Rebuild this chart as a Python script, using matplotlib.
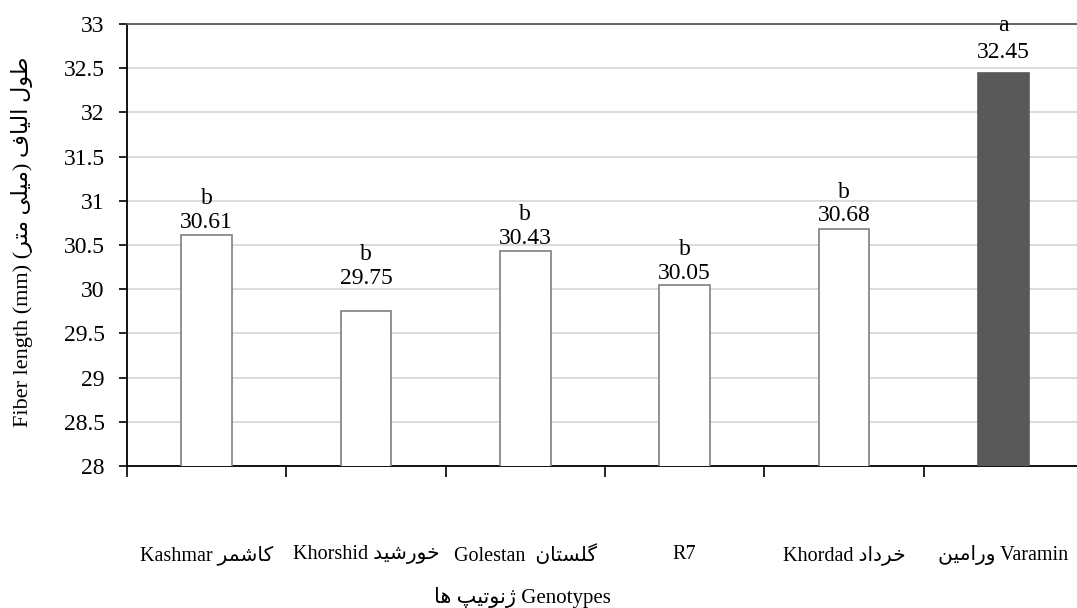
#...............................................................
# fiber length of cotton genotypes, bar chart with mean letters
#...............................................................
import numpy as np
import matplotlib
matplotlib.use("Agg")
import matplotlib.pyplot as plt

#...............................................................
# data
# Persian words are written in presentation forms, visual order
# (matplotlib has no arabic shaping)
genotypes = ["Kashmar \uFEAE\uFEE4\uFEB7\uFE8E\uFB90",
             "Khorshid \uFEAA\uFBFF\uFEB7\uFEAD\uFEEE\uFEA7",
             "Golestan  \uFEE5\uFE8E\uFE98\uFEB4\uFEE0\uFB94",
             "R7",
             "Khordad \uFEA9\uFE8D\uFEA9\uFEAE\uFEA7",
             "\uFEE6\uFBFF\uFEE3\uFE8D\uFEAD\uFEED Varamin"]
fiber_len = [30.61, 29.75, 30.43, 30.05, 30.68, 32.45]
letters = ["b", "b", "b", "b", "b", "a"]
yticks = [28, 28.5, 29, 29.5, 30, 30.5, 31, 31.5, 32, 32.5, 33]

ylab = ("Fiber length (mm) (\uFEAE\uFE98\uFEE3 \uFBFD\uFEE0\uFBFF\uFEE3) "
        "\uFED1\uFE8E\uFBFF\uFEDF\uFE8D \uFEDD\uFEEE\uFEC3")
xlab = "\uFE8E\uFEEB \uFB57\uFBFF\uFE97\uFEEE\uFEE7\uFB8A Genotypes"

# labels were hand placed in the original, extra lift per bar
lift = [0, 0.22, 0, -0.02, 0, 0.08]

fams = ["Liberation Serif", "DejaVu Sans"]
plt.rcParams["font.family"] = fams

#...............................................................
fig = plt.figure(figsize=(10.77, 6.08), dpi=100)
ax = fig.add_axes([127/1077, 1-466/608, 956/1077, 442/608])

x = np.arange(len(fiber_len))
cols = ["white"]*5 + ["#595959"]
bars = ax.bar(x, fiber_len, width=0.32, color=cols,
              edgecolor=["#7f7f7f"]*5 + ["#595959"], linewidth=1.2, zorder=3)

for xi, v, l, d in zip(x, fiber_len, letters, lift):
    ax.text(xi, v + 0.03 + d, f"{v:.2f}", ha="center", va="bottom",
            fontsize=17, zorder=4)
    ax.text(xi, v + 0.30 + d + (0.03 if l == "a" else 0), l,
            ha="center", va="bottom", fontsize=17, zorder=4)

ax.set_ylim(28, 33)
ax.set_xlim(-0.5, 5.5)
ax.set_yticks(yticks)
ax.set_yticklabels([f"{t:g}" for t in yticks], fontsize=17)
ax.yaxis.grid(True, color="#d9d9d9", linewidth=1.3, zorder=0)

# category boundaries as major ticks, names as minor ticks
ax.set_xticks(np.arange(-0.5, 5.6, 1.0))
ax.set_xticklabels([])
ax.set_xticks(x, minor=True)
ax.set_xticklabels(genotypes, minor=True, fontsize=14.5)
ax.tick_params(axis="x", which="major", length=8, width=1.2,
               color="black")
ax.tick_params(axis="x", which="minor", length=0, pad=57)
ax.tick_params(axis="y", length=6, width=1.2, color="black", pad=10)

for s in ["left", "bottom"]:
    ax.spines[s].set_color("black")
    ax.spines[s].set_linewidth(1.3)
ax.spines["top"].set_color("#595959")
ax.spines["top"].set_linewidth(1.3)
ax.spines["right"].set_visible(False)

fig.text(22/1077, 1-242/608, ylab, rotation=90, ha="center",
         va="center", fontsize=16)
fig.text(522/1077, 1-597/608, xlab, ha="center", va="center",
         fontsize=15)

fig.savefig("out.png", dpi=100)
